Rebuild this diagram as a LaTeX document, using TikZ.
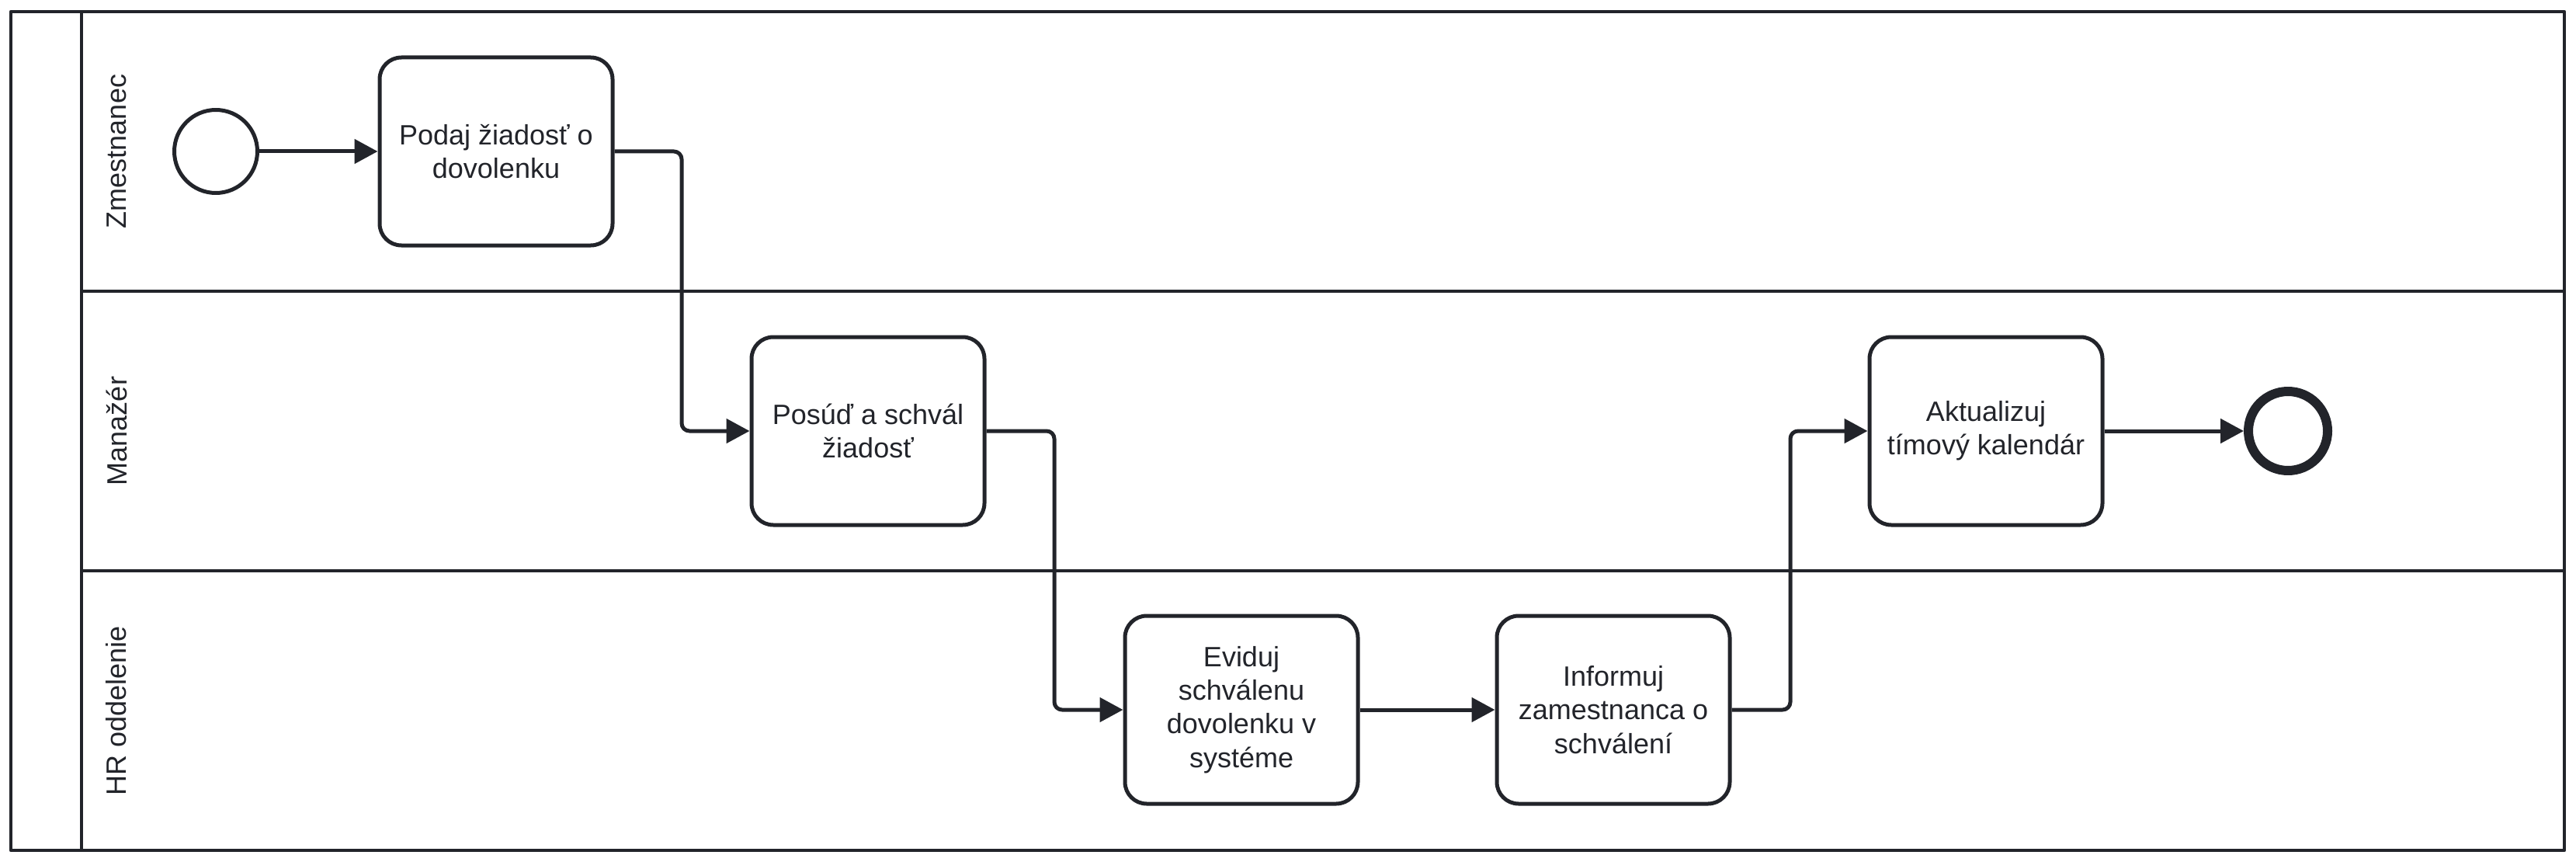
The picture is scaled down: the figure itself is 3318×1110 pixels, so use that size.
\documentclass[tikz,border=0pt]{standalone}
\usepackage{fontspec}
\setmainfont{Liberation Sans}
\usetikzlibrary{arrows.meta}
\definecolor{ink}{RGB}{34,36,42}
\begin{document}
\begin{tikzpicture}[x=1pt,y=-1pt,
  font=\fontsize{36}{43.3}\selectfont,
  line join=round,
  pool/.style={draw=ink, line width=4.5pt},
  task/.style={draw=ink, fill=white, line width=5pt, rounded corners=28pt,
    minimum width=300pt, minimum height=242pt, align=center, inner sep=0pt, text=ink},
  startev/.style={draw=ink, fill=white, circle, line width=5pt, minimum size=107pt, inner sep=0pt},
  endev/.style={draw=ink, fill=white, circle, line width=12pt, minimum size=102pt, inner sep=0pt},
  lanelabel/.style={rotate=90, text=ink, inner sep=0pt},
  flow/.style={draw=ink, line width=5pt, rounded corners=10pt,
    -{Triangle[length=30pt,width=31pt]}}
]
\useasboundingbox (0,0) rectangle (3318,1110);
% pool and lanes
\draw[pool] (14,15) rectangle (3303,1095);
\draw[pool] (105,15) -- (105,1095);
\draw[pool] (105,375) -- (3303,375);
\draw[pool] (105,735) -- (3303,735);
\node[lanelabel] (l1) at (150,195) {Zmestnanec};
\node[lanelabel] (l2) at (150,555) {Manažér};
\node[lanelabel] (l3) at (150,915) {HR oddelenie};
% elements
\node[startev] (s) at (278,195) {};
\node[task] (t1) at (639,195) {Podaj žiadosť o\\dovolenku};
\node[task] (t2) at (1118,555) {Posúď a schvál\\žiadosť};
\node[task] (t3) at (1599,914) {Eviduj\\schválenu\\dovolenku v\\systéme};
\node[task] (t4) at (2078,914) {Informuj\\zamestnanca o\\schválení};
\node[task] (t5) at (2558,555) {Aktualizuj\\tímový kalendár};
\node[endev] (e) at (2947,555) {};
% bend points
\coordinate (b1) at (878,195);
\coordinate (b2) at (1358,555);
\coordinate (b3) at (2306,914);
% flows
\draw[flow] (s) -- (t1);
\draw[flow] (t1.east) -- (b1) |- (t2.west);
\draw[flow] (t2.east) -- (b2) |- (t3.west);
\draw[flow] (t3) -- (t4);
\draw[flow] (t4.east) -- (b3) |- (t5.west);
\draw[flow] (t5) -- (e);
\end{tikzpicture}
\end{document}
